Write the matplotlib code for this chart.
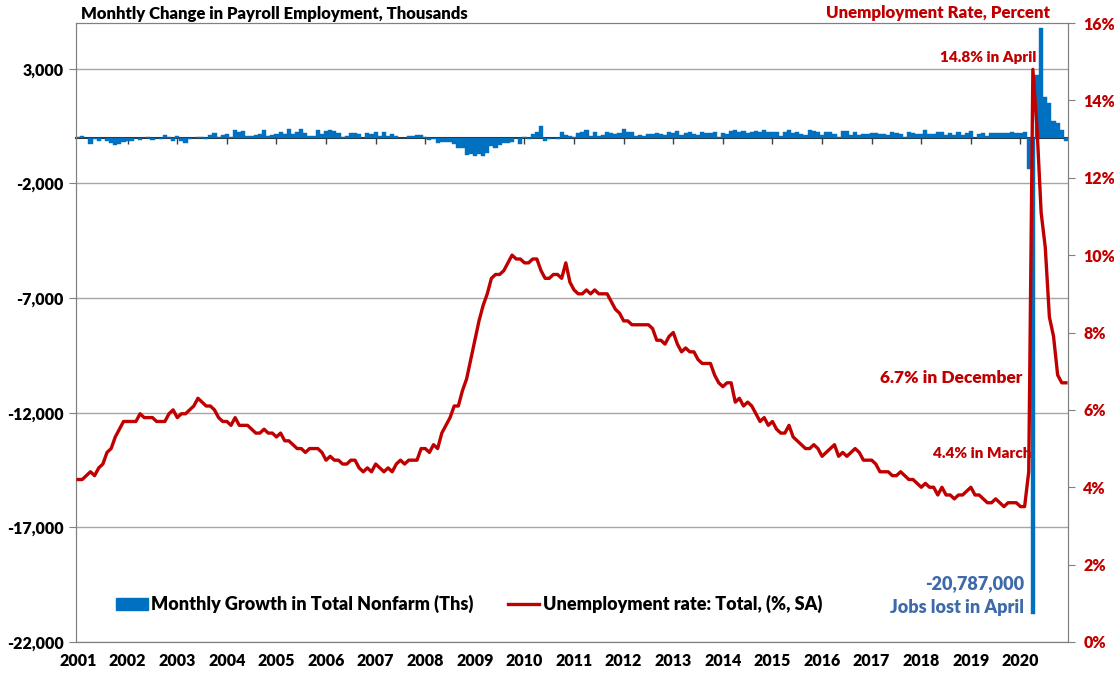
import numpy as np
import matplotlib.pyplot as plt
from matplotlib.patches import Patch
from matplotlib.lines import Line2D
from matplotlib.ticker import FuncFormatter

plt.rcParams['font.family'] = ['Lato', 'DejaVu Sans']
plt.rcParams['font.weight'] = 'heavy'

BLUE = '#0070C0'
RED = '#C00000'
NOTE_BLUE = '#3E6AAA'

years = list(range(2001, 2021))

# monthly change in total nonfarm payrolls, thousands (Jan 2001 - Dec 2020)
payroll_chg = [
    42, 67, -22, -281, -42, -130, -4, -155, -239, -325, -292, -172,
    -134, -148, -23, -87, -8, 42, -99, 1, -63, 120, 9, -158,
    90, -161, -215, -50, -8, 8, 23, -44, 112, 198, 15, 120,
    162, 40, 337, 251, 309, 79, 51, 123, 160, 349, 64, 130,
    137, 243, 143, 361, 164, 248, 371, 199, 66, 85, 337, 156,
    277, 318, 282, 182, 22, 77, 203, 184, 157, 2, 210, 171,
    238, 87, 225, 76, 145, 71, -34, -16, 85, 82, 116, 97,
    15, -87, -79, -215, -183, -172, -210, -259, -452, -474, -765, -697,
    -791, -703, -823, -687, -349, -471, -329, -213, -220, -204, -2, -275,
    14, -68, 163, 243, 522, -133, -70, -34, -52, 262, 119, 87,
    43, 189, 225, 346, 77, 225, 69, 110, 248, 209, 141, 209,
    358, 237, 233, 78, 115, 76, 143, 177, 203, 146, 132, 244,
    211, 286, 130, 197, 226, 162, 122, 261, 190, 212, 258, 47,
    190, 151, 272, 329, 246, 304, 202, 230, 280, 227, 312, 255,
    234, 238, 86, 262, 344, 206, 254, 157, 100, 321, 272, 239,
    126, 237, 225, 153, 43, 297, 291, 135, 249, 124, 164, 155,
    216, 219, 146, 140, 135, 232, 186, 164, 18, 262, 220, 174,
    176, 324, 155, 175, 249, 237, 104, 201, 105, 250, 123, 195,
    269, 1, 147, 210, 85, 182, 194, 207, 208, 185, 261, 184,
    214, 251, -1373, -20787, 2725, 4781, 1761, 1493, 711, 654, 336, -140,
]

# unemployment rate, percent, SA
unemp_rate = [
    4.2, 4.2, 4.3, 4.4, 4.3, 4.5, 4.6, 4.9, 5.0, 5.3, 5.5, 5.7,
    5.7, 5.7, 5.7, 5.9, 5.8, 5.8, 5.8, 5.7, 5.7, 5.7, 5.9, 6.0,
    5.8, 5.9, 5.9, 6.0, 6.1, 6.3, 6.2, 6.1, 6.1, 6.0, 5.8, 5.7,
    5.7, 5.6, 5.8, 5.6, 5.6, 5.6, 5.5, 5.4, 5.4, 5.5, 5.4, 5.4,
    5.3, 5.4, 5.2, 5.2, 5.1, 5.0, 5.0, 4.9, 5.0, 5.0, 5.0, 4.9,
    4.7, 4.8, 4.7, 4.7, 4.6, 4.6, 4.7, 4.7, 4.5, 4.4, 4.5, 4.4,
    4.6, 4.5, 4.4, 4.5, 4.4, 4.6, 4.7, 4.6, 4.7, 4.7, 4.7, 5.0,
    5.0, 4.9, 5.1, 5.0, 5.4, 5.6, 5.8, 6.1, 6.1, 6.5, 6.8, 7.3,
    7.8, 8.3, 8.7, 9.0, 9.4, 9.5, 9.5, 9.6, 9.8, 10.0, 9.9, 9.9,
    9.8, 9.8, 9.9, 9.9, 9.6, 9.4, 9.4, 9.5, 9.5, 9.4, 9.8, 9.3,
    9.1, 9.0, 9.0, 9.1, 9.0, 9.1, 9.0, 9.0, 9.0, 8.8, 8.6, 8.5,
    8.3, 8.3, 8.2, 8.2, 8.2, 8.2, 8.2, 8.1, 7.8, 7.8, 7.7, 7.9,
    8.0, 7.7, 7.5, 7.6, 7.5, 7.5, 7.3, 7.2, 7.2, 7.2, 6.9, 6.7,
    6.6, 6.7, 6.7, 6.2, 6.3, 6.1, 6.2, 6.1, 5.9, 5.7, 5.8, 5.6,
    5.7, 5.5, 5.4, 5.4, 5.6, 5.3, 5.2, 5.1, 5.0, 5.0, 5.1, 5.0,
    4.8, 4.9, 5.0, 5.1, 4.8, 4.9, 4.8, 4.9, 5.0, 4.9, 4.7, 4.7,
    4.7, 4.6, 4.4, 4.4, 4.4, 4.3, 4.3, 4.4, 4.3, 4.2, 4.2, 4.1,
    4.0, 4.1, 4.0, 4.0, 3.8, 4.0, 3.8, 3.8, 3.7, 3.8, 3.8, 3.9,
    4.0, 3.8, 3.8, 3.7, 3.6, 3.6, 3.7, 3.6, 3.5, 3.6, 3.6, 3.6,
    3.5, 3.5, 4.4, 14.8, 13.3, 11.1, 10.2, 8.4, 7.9, 6.9, 6.7, 6.7,
]

left_ticks = [-22000, -17000, -12000, -7000, -2000, 3000]
right_ticks = [0, 2, 4, 6, 8, 10, 12, 14, 16]

x = 2001 + np.arange(len(payroll_chg)) / 12

W, H = 1114, 673
fig = plt.figure(figsize=(W / 100, H / 100), dpi=100)
ax = fig.add_axes([76 / W, 31 / H, (1068 - 76) / W, (642 - 23) / H])

ax.bar(x, payroll_chg, width=1 / 12, color=BLUE, edgecolor=BLUE, lw=0.3, zorder=2)
ax.set_xlim(2001 - 0.5 / 12, 2021 - 0.5 / 12)
ax.set_ylim(-22000, 5000)
ax.set_yticks(left_ticks)
ax.yaxis.set_major_formatter(FuncFormatter(lambda v, p: f"{int(v):,}"))
ax.yaxis.grid(True, color='#A6A6A6', lw=1, zorder=0)
ax.set_axisbelow(True)
ax.tick_params(axis='y', length=5, color='#808080', labelsize=11.5, pad=4)
ax.set_xticks(years)
ax.set_xticklabels([str(y) for y in years])
ax.tick_params(axis='x', length=0, labelsize=11.5, pad=8)
for s in ax.spines.values():
    s.set_color('#808080')

# category axis line through zero with year tick marks
zax = ax.secondary_xaxis(0, transform=ax.transData)
zax.set_xticks(years[1:])
zax.set_xticklabels([])
zax.tick_params(axis='x', length=4, width=1, color='#404040')
zax.spines['bottom'].set_color('#303030')
zax.spines['bottom'].set_linewidth(1.5)

ax2 = ax.twinx()
ax2.plot(x, unemp_rate, color=RED, lw=2.4, zorder=3)
ax2.set_ylim(0, 16)
ax2.set_yticks(right_ticks)
ax2.yaxis.set_major_formatter(FuncFormatter(lambda v, p: f"{int(v)}%"))
ax2.tick_params(axis='y', length=5, color='#808080', labelsize=11.5,
                labelcolor=RED, pad=6)
for s in ax2.spines.values():
    s.set_color('#808080')

# annotations
ax2.text(2020.33, 15.12, "14.8% in April", color=RED, fontsize=11,
         ha='right', va='center')
ax2.text(2020.03, 6.82, "6.7% in December", color=RED, fontsize=12.5,
         ha='right', va='center')
ax2.text(2020.23, 4.88, "4.4% in March", color=RED, fontsize=11,
         ha='right', va='center', zorder=1)
ax2.text(2020.08, 1.5, "-20,787,000", color=NOTE_BLUE, fontsize=13,
         ha='right', va='center')
ax2.text(2020.08, 0.88, "Jobs lost in April", color=NOTE_BLUE, fontsize=13,
         ha='right', va='center')

fig.text(81 / W, 1 - 13.5 / H, "Monhtly Change in Payroll Employment, Thousands",
         fontsize=12, ha='left', va='center')
fig.text(938 / W, 1 - 13 / H, "Unemployment Rate, Percent", color=RED,
         fontsize=12.2, ha='center', va='center')

handles = [Patch(facecolor=BLUE, edgecolor=BLUE),
           Line2D([0], [0], color=RED, lw=2.4)]
labels = ["Monthly Growth in Total Nonfarm (Ths)",
          "Unemployment rate: Total, (%, SA)"]
fig.legend(handles, labels, loc='center left',
           bbox_to_anchor=(116 / W, 1 - 604 / H), bbox_transform=fig.transFigure,
           ncol=2, frameon=False, fontsize=13, borderpad=0, borderaxespad=0,
           handlelength=1.75, handleheight=0.65, handletextpad=0.2,
           columnspacing=1.9)

fig.savefig('out.png', dpi=100)
